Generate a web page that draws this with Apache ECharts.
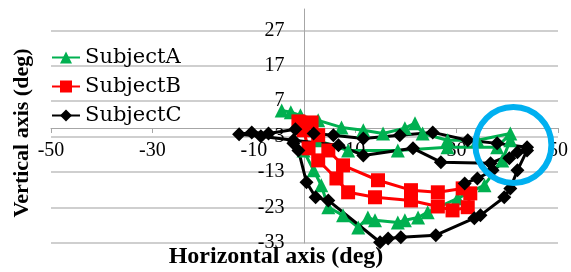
<!DOCTYPE html>
<html>
<head>
<meta charset="utf-8">
<script src="https://cdn.jsdelivr.net/npm/echarts@6/dist/echarts.min.js"></script>
<style>
  html, body { margin: 0; padding: 0; background: #fff; }
  #chart { width: 571px; height: 272px; }
</style>
</head>
<body>
<div id="chart"></div>
<script>
// values, [horizontal, vertical] in degrees
var subjectA = [
  [-4.5, 4.4], [-2.7, 3.9], [-0.8, 3.0], [2.7, 1.6], [7.3, -0.4], [11.6, -1.2],
  [15.5, -2.1], [19.8, -0.6], [21.8, 0.8], [23.3, -2.1], [28.2, -4.0], [34.1, -4.0],
  [40.6, -2.1], [38.0, -6.0], [28.2, -6.0], [18.4, -6.9], [8.6, -6.9], [2.4, -4.0],
  [-0.2, -6.9], [1.8, -12.5], [3.3, -16.7], [4.7, -22.9], [7.6, -25.2], [10.6, -28.6],
  [12.5, -25.8], [13.9, -26.6], [18.4, -27.2], [19.8, -26.6], [22.4, -25.8], [24.3, -24.3],
  [30.2, -20.4], [35.5, -16.7], [39.0, -9.7], [40.6, -4.0]
]
var subjectB = [
  [-1.2, 1.3], [1.4, 1.0], [2.7, -2.6], [4.7, -6.9], [7.6, -11.1], [14.5, -15.3],
  [21.0, -18.1], [26.3, -18.7], [31.2, -17.6], [32.7, -19.0], [32.2, -22.9], [29.2, -23.8],
  [26.3, -22.7], [21.0, -21.0], [13.9, -20.1], [8.6, -18.7], [6.3, -14.8], [2.7, -9.7],
  [0.8, -6.3], [-0.2, -1.2]
]
var subjectC = [
  [31.6, -16.2], [34.1, -14.8], [37.1, -12.5], [40.4, -9.1], [43.9, -6.0], [38.0, -4.9],
  [32.2, -4.0], [25.3, -1.8], [18.8, -2.6], [11.6, -3.5], [5.7, -2.6], [1.8, -2.1],
  [-1.8, -0.9], [-7.1, -2.1], [-10.4, -1.8], [-12.9, -2.3], [-8.6, -2.9], [-2.2, -4.0],
  [6.7, -5.4], [11.6, -8.3], [21.4, -6.3], [26.9, -10.2], [36.7, -10.5], [42.0, -7.4],
  [43.9, -6.9], [42.0, -12.5], [40.6, -17.6], [39.4, -20.1], [34.7, -25.2], [33.5, -26.0],
  [25.9, -30.8], [19.0, -31.4], [16.5, -31.7], [14.9, -32.8], [4.7, -21.0], [2.2, -20.1],
  [0.4, -15.9], [-1.2, -6.9], [-2.2, -4.9]
]
var names = ['SubjectA', 'SubjectB', 'SubjectC']
// highlighted area (blue ring), centre in data units
var ringCenter = [41.2, -6]

var serif = '"Liberation Serif", "Times New Roman", serif'

function line(name, data, color, symbol, size) {
  return {
    name: name,
    type: 'line',
    data: data,
    symbol: symbol,
    symbolSize: size,
    itemStyle: { color: color },
    lineStyle: { color: color, width: 3 },
    animation: false
  }
}

var chart = echarts.init(document.getElementById('chart'))
var option = {
  animation: false,
  grid: { left: 51, right: 13, top: 9, bottom: 29 },
  legend: {
    data: names,
    orient: 'vertical',
    left: 46,
    top: 42,
    itemWidth: 28,
    itemHeight: 15,
    itemGap: 8,
    textStyle: { fontFamily: '"DejaVu Serif", serif', fontSize: 21, color: '#000' }
  },
  xAxis: {
    type: 'value',
    min: -50,
    max: 50,
    interval: 20,
    axisLine: { onZero: false, lineStyle: { color: '#a6a6a6', width: 1 } },
    axisTick: { show: true, length: 5, lineStyle: { color: '#a6a6a6' } },
    axisLabel: { fontFamily: serif, fontSize: 20, color: '#000', margin: 13 },
    splitLine: { show: false }
  },
  yAxis: {
    type: 'value',
    min: -33,
    max: 33,
    interval: 10,
    axisLine: { show: true, onZero: false, lineStyle: { color: '#a6a6a6', width: 1 } },
    axisTick: { show: false },
    axisLabel: { fontFamily: serif, fontSize: 20, color: '#000', margin: 20, showMaxLabel: false },
    splitLine: { show: true, showMaxLine: false, lineStyle: { color: '#bfbfbf', width: 1.5 } }
  },
  series: [
    line(names[0], subjectA, '#00b050', 'triangle', 14),
    line(names[1], subjectB, '#ff0000', 'rect', 14),
    line(names[2], subjectC, '#000000', 'diamond', 14)
  ],
  graphic: [
    {
      type: 'text',
      x: 22,
      y: 133,
      rotation: Math.PI / 2,
      style: {
        text: 'Vertical axis (deg)', fontFamily: serif, fontWeight: 'bold', fontSize: 22,
        fill: '#000', align: 'center', verticalAlign: 'middle'
      }
    },
    {
      type: 'text',
      x: 276,
      y: 257,
      style: {
        text: 'Horizontal axis (deg)', fontFamily: serif, fontWeight: 'bold', fontSize: 24,
        fill: '#000', align: 'center', verticalAlign: 'middle'
      }
    }
  ]
}
chart.setOption(option)

// move both axes so they cross at the origin, labels following them
var origin = chart.convertToPixel({ gridIndex: 0 }, [0, 0])
var corner = chart.convertToPixel({ gridIndex: 0 }, [-50, -33])
var c = chart.convertToPixel({ gridIndex: 0 }, ringCenter)
chart.setOption({
  xAxis: { offset: -(corner[1] - origin[1]) },
  yAxis: { offset: -(origin[0] - corner[0]) },
  graphic: [{}, {}, {
    type: 'circle',
    shape: { cx: c[0], cy: c[1], r: 38 },
    style: { fill: 'none', stroke: '#00b0f0', lineWidth: 6 },
    z: 100
  }]
})
</script>
</body>
</html>
